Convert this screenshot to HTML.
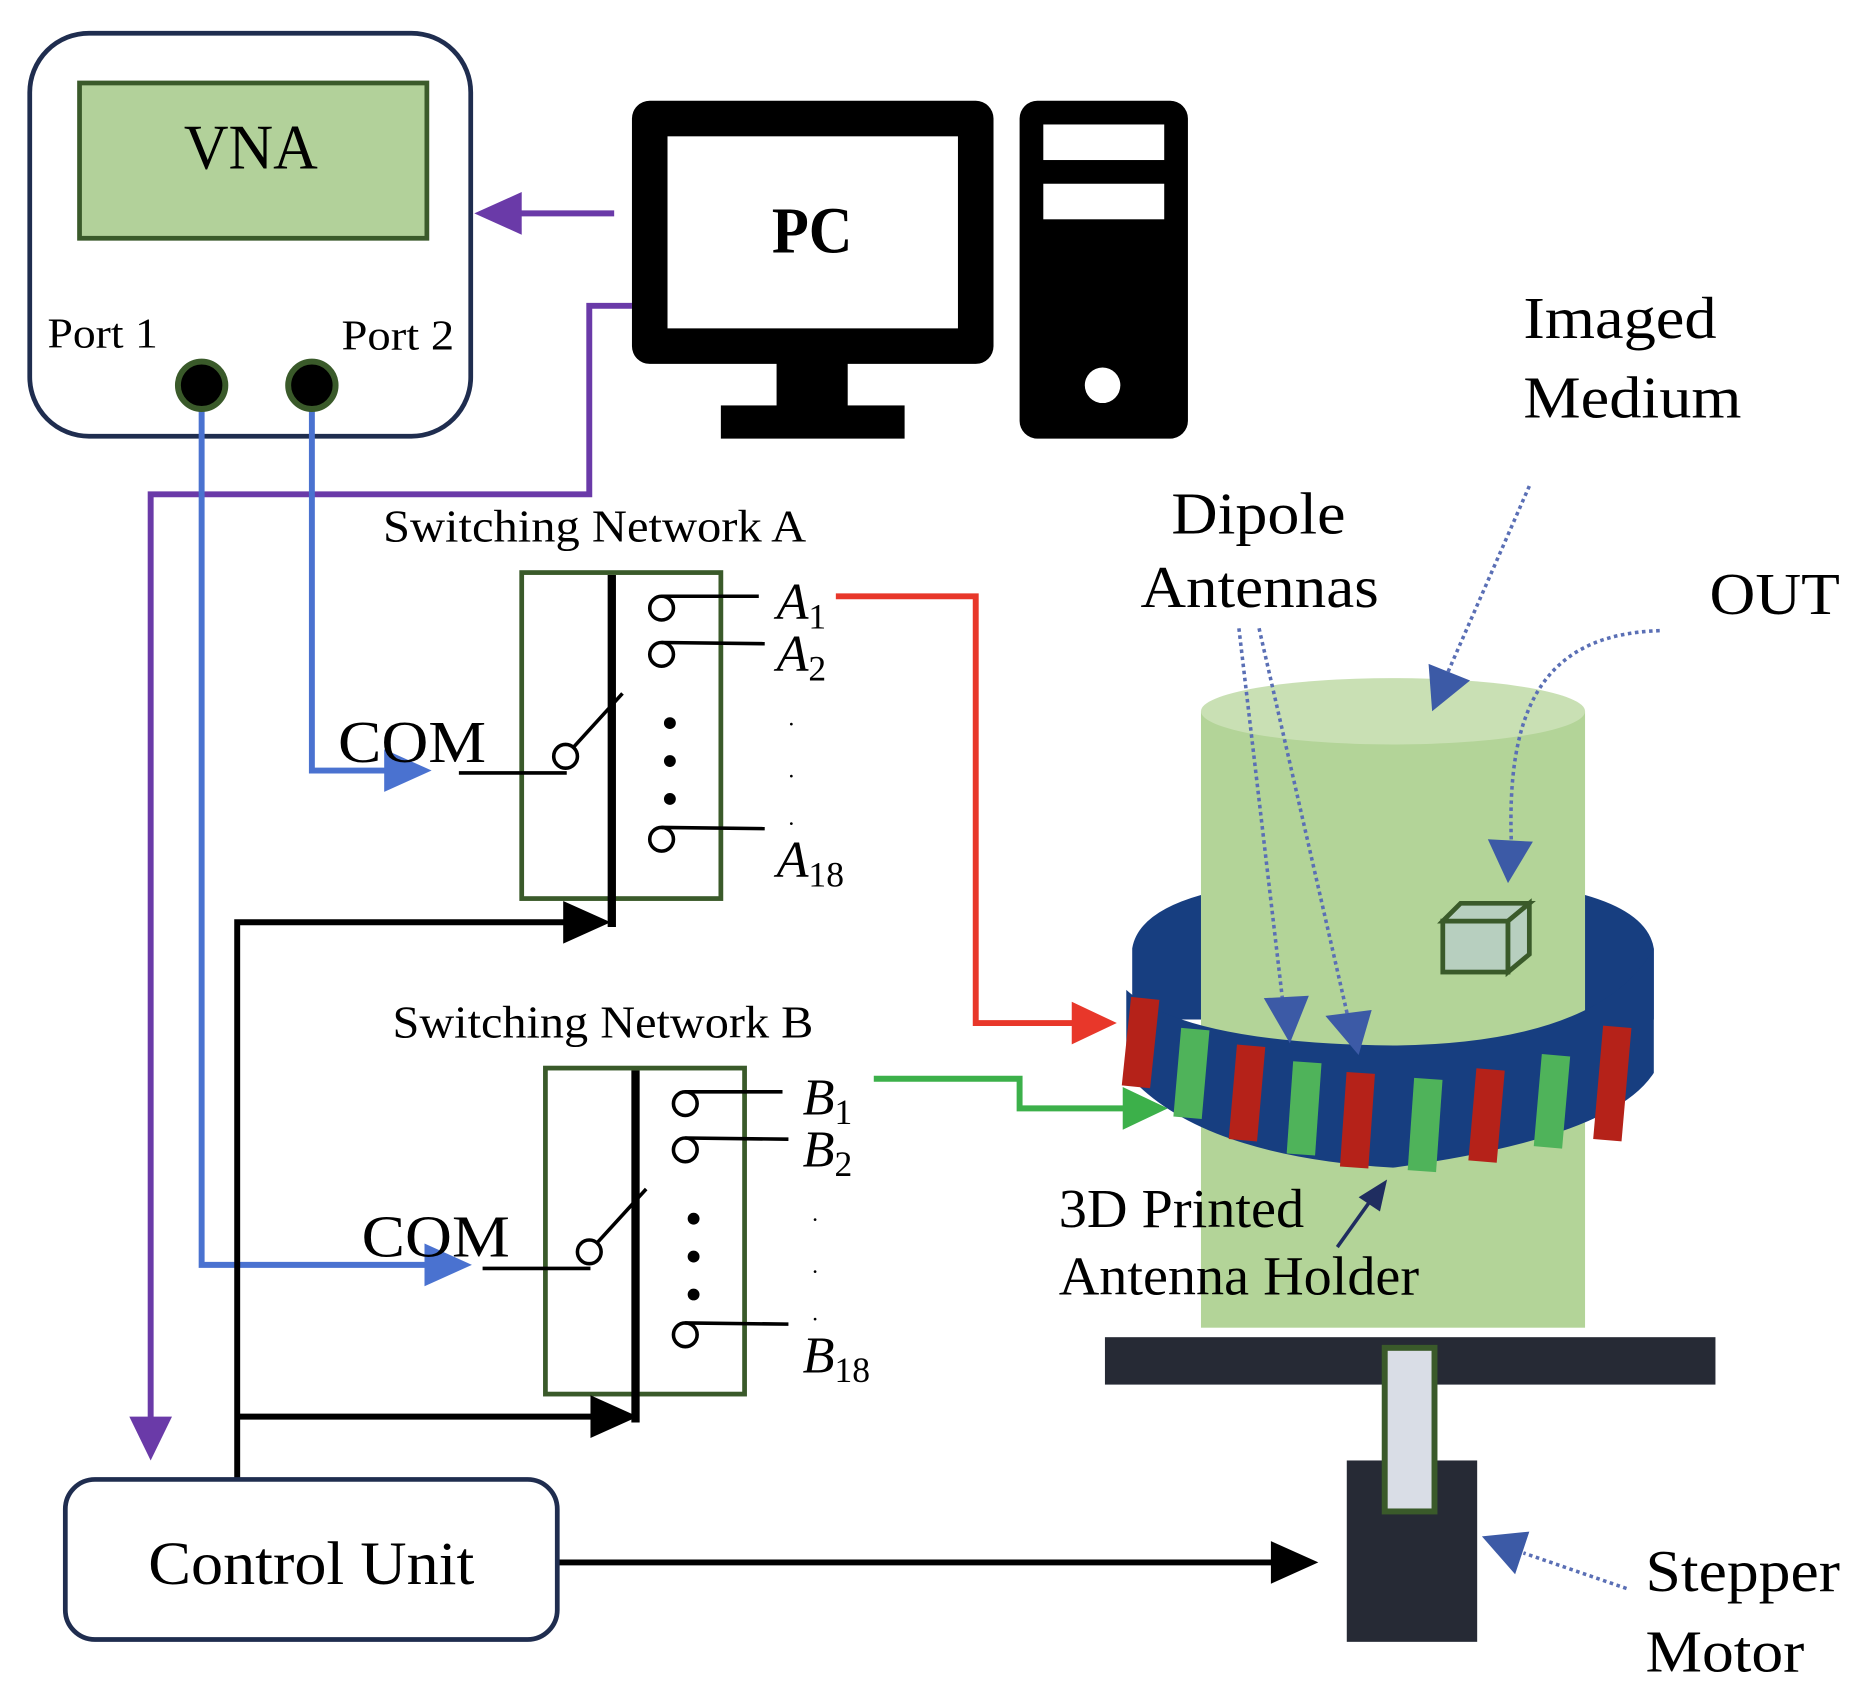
<!DOCTYPE html>
<html><head><meta charset="utf-8"><style>
html,body{margin:0;padding:0;background:#fff;}
svg{display:block;}
text{font-family:"Liberation Serif",serif;fill:#000;}
</style></head><body>
<svg width="1859" height="1694" viewBox="0 0 1568 1429" xmlns="http://www.w3.org/2000/svg">
<rect x="25" y="28" width="372" height="340" rx="50" fill="#fff" stroke="#1f2d4f" stroke-width="4"/>
<rect x="67" y="70" width="293" height="131" fill="#b2d19a" stroke="#3a5a2a" stroke-width="4"/>
<text x="155" y="142" font-size="54" textLength="113" lengthAdjust="spacingAndGlyphs">VNA</text>
<text x="40" y="293" font-size="36" textLength="93" lengthAdjust="spacingAndGlyphs">Port 1</text>
<text x="288" y="295" font-size="36" textLength="95" lengthAdjust="spacingAndGlyphs">Port 2</text>
<rect x="533" y="85" width="305" height="222" rx="15" fill="#000"/>
<rect x="563" y="115" width="245" height="162" fill="#fff"/>
<rect x="655" y="305" width="60" height="40" fill="#000"/>
<rect x="608" y="342" width="155" height="28" fill="#000"/>
<text x="651" y="213" font-size="55" font-weight="bold" textLength="68" lengthAdjust="spacingAndGlyphs">PC</text>
<rect x="860" y="85" width="142" height="285" rx="15" fill="#000"/>
<rect x="880" y="105" width="102" height="30" fill="#fff"/>
<rect x="880" y="155" width="102" height="30" fill="#fff"/>
<circle cx="930" cy="325" r="15" fill="#fff"/>
<g stroke="#6a3aa8" stroke-width="5" fill="none">
<line x1="518" y1="180" x2="430" y2="180"/>
<polyline points="533,258 497,258 497,417 127,417 127,1205"/>
</g>
<polygon points="400,180 440,162 440,198" fill="#6a3aa8"/>
<polygon points="127,1232 109,1195 145,1195" fill="#6a3aa8"/>
<g stroke="#4a72d0" stroke-width="5" fill="none">
<polyline points="263,340 263,650 330,650"/>
<polyline points="170,340 170,1067 360,1067"/>
</g>
<polygon points="364,650 324,632 324,668" fill="#4a72d0"/>
<polygon points="398,1067 358,1049 358,1085" fill="#4a72d0"/>
<circle cx="170" cy="325" r="20" fill="#000" stroke="#3a5a2a" stroke-width="5"/>
<circle cx="263" cy="325" r="20" fill="#000" stroke="#3a5a2a" stroke-width="5"/>
<g id="swA">
<rect x="440" y="483" width="168" height="275" fill="none" stroke="#3a5a2a" stroke-width="4"/>
<line x1="516" y1="485" x2="516" y2="782" stroke="#000" stroke-width="7"/>
<g stroke="#000" stroke-width="3" fill="none">
<circle cx="558" cy="513" r="10"/><circle cx="558" cy="552" r="10"/><circle cx="558" cy="708" r="10"/>
<line x1="558" y1="503" x2="640" y2="503"/><line x1="558" y1="542" x2="645" y2="543"/><line x1="558" y1="698" x2="645" y2="699"/>
<line x1="387" y1="652" x2="478" y2="652"/><circle cx="477" cy="638" r="10"/>
<line x1="484" y1="630" x2="525" y2="585"/>
</g>
<circle cx="565" cy="610" r="5"/><circle cx="565" cy="642" r="5"/><circle cx="565" cy="674" r="5"/>
<text x="665" y="612" font-size="20">.</text><text x="665" y="656" font-size="20">.</text><text x="665" y="696" font-size="20">.</text>
</g>
<text x="655" y="522" font-size="44" font-style="italic">A<tspan font-size="30" font-style="normal" dy="8">1</tspan></text>
<text x="655" y="566" font-size="44" font-style="italic">A<tspan font-size="30" font-style="normal" dy="8">2</tspan></text>
<text x="655" y="740" font-size="44" font-style="italic">A<tspan font-size="30" font-style="normal" dy="8">18</tspan></text>
<text x="323" y="457" font-size="38" textLength="357" lengthAdjust="spacingAndGlyphs">Switching Network A</text>
<text x="285" y="643" font-size="50" textLength="125" lengthAdjust="spacingAndGlyphs">COM</text>
<use href="#swA" transform="translate(20,418)"/>
<text x="677" y="940" font-size="44" font-style="italic">B<tspan font-size="30" font-style="normal" dy="8">1</tspan></text>
<text x="677" y="984" font-size="44" font-style="italic">B<tspan font-size="30" font-style="normal" dy="8">2</tspan></text>
<text x="677" y="1158" font-size="44" font-style="italic">B<tspan font-size="30" font-style="normal" dy="8">18</tspan></text>
<text x="331" y="875" font-size="38" textLength="355" lengthAdjust="spacingAndGlyphs">Switching Network B</text>
<text x="305" y="1060" font-size="50" textLength="125" lengthAdjust="spacingAndGlyphs">COM</text>
<g stroke="#000" stroke-width="5" fill="none">
<polyline points="200,1248 200,778 480,778"/>
<line x1="200" y1="1195" x2="500" y2="1195"/>
<line x1="470" y1="1318" x2="1080" y2="1318"/>
</g>
<polygon points="515,778 475,760 475,796" fill="#000"/>
<polygon points="538,1195 498,1177 498,1213" fill="#000"/>
<polygon points="1112,1318 1072,1300 1072,1336" fill="#000"/>
<rect x="55" y="1248" width="415" height="135" rx="25" fill="#fff" stroke="#1f2d4f" stroke-width="4"/>
<text x="125" y="1336" font-size="52" textLength="275" lengthAdjust="spacingAndGlyphs">Control Unit</text>
<polyline points="705,503 823,503 823,863 905,863" stroke="#e8372a" stroke-width="5" fill="none"/>
<polygon points="942,863 904,845 904,881" fill="#e8372a"/>
<polyline points="737,910 860,910 860,935 950,935" stroke="#3cb04a" stroke-width="5" fill="none"/>
<polygon points="985,935 947,917 947,953" fill="#3cb04a"/>
<path d="M955,800 Q960,770 1013,755 L1337,755 Q1390,770 1395,800 L1395,860 L955,860 Z" fill="#173e80"/>
<rect x="1013" y="600" width="324" height="520" fill="#b3d498"/>
<ellipse cx="1175" cy="600" rx="162" ry="28" fill="#c9e0b4"/>
<path d="M950,835 Q1000,880 1175,882 Q1350,880 1395,800 L1395,905 Q1360,960 1175,985 Q1010,975 950,905 Z" fill="#173e80"/>
<g>
<rect x="950" y="842" width="24" height="75" fill="#b52219" transform="rotate(6 962 880)"/>
<rect x="993" y="868" width="24" height="75" fill="#4fb35a" transform="rotate(5 1005 905)"/>
<rect x="1040" y="882" width="24" height="80" fill="#b52219" transform="rotate(5 1052 920)"/>
<rect x="1088" y="896" width="24" height="78" fill="#4fb35a" transform="rotate(4 1100 935)"/>
<rect x="1133" y="905" width="24" height="80" fill="#b52219" transform="rotate(4 1145 945)"/>
<rect x="1190" y="910" width="24" height="78" fill="#4fb35a" transform="rotate(4 1202 950)"/>
<rect x="1242" y="902" width="24" height="78" fill="#b52219" transform="rotate(5 1254 940)"/>
<rect x="1297" y="890" width="24" height="78" fill="#4fb35a" transform="rotate(5 1309 930)"/>
<rect x="1348" y="866" width="24" height="96" fill="#b52219" transform="rotate(5 1360 914)"/>
</g>
<g stroke="#3a5a2a" stroke-width="4" fill="#b7cfbf">
<rect x="1217" y="777" width="55" height="43"/>
<polygon points="1217,777 1232,762 1290,762 1272,777"/>
<polygon points="1272,777 1290,762 1290,805 1272,820"/>
</g>
<rect x="932" y="1128" width="515" height="40" fill="#262a35"/>
<rect x="1136" y="1232" width="110" height="153" fill="#262a35"/>
<rect x="1168" y="1137" width="42" height="138" fill="#d9dde6" stroke="#3a5a2a" stroke-width="5"/>
<g stroke="#5a6fb5" stroke-width="3" stroke-dasharray="3,3" fill="none">
<line x1="1290" y1="410" x2="1220" y2="570"/>
<path d="M1400,532 C1300,535 1270,600 1275,715"/>
<line x1="1045" y1="530" x2="1082" y2="845"/>
<line x1="1062" y1="530" x2="1137" y2="858"/>
<line x1="1372" y1="1340" x2="1285" y2="1310"/>
</g>
<g fill="#3c5aa6">
<polygon points="1208,600 1205,560 1240,574"/>
<polygon points="1272,745 1255,708 1293,710"/>
<polygon points="1088,880 1066,842 1104,840"/>
<polygon points="1146,890 1118,857 1157,852"/>
<polygon points="1250,1296 1290,1292 1278,1328"/>
</g>
<line x1="1128" y1="1052" x2="1158" y2="1010" stroke="#1f2d60" stroke-width="3"/>
<polygon points="1170,995 1146,1010 1164,1022" fill="#1f2d60"/>
<text x="1285" y="285" font-size="50" textLength="163" lengthAdjust="spacingAndGlyphs">Imaged</text>
<text x="1285" y="352" font-size="50" textLength="184" lengthAdjust="spacingAndGlyphs">Medium</text>
<text x="988" y="450" font-size="50" textLength="147" lengthAdjust="spacingAndGlyphs">Dipole</text>
<text x="962" y="512" font-size="50" textLength="201" lengthAdjust="spacingAndGlyphs">Antennas</text>
<text x="1442" y="518" font-size="50" textLength="110" lengthAdjust="spacingAndGlyphs">OUT</text>
<text x="893" y="1035" font-size="46" textLength="207" lengthAdjust="spacingAndGlyphs">3D Printed</text>
<text x="893" y="1092" font-size="46" textLength="304" lengthAdjust="spacingAndGlyphs">Antenna Holder</text>
<text x="1388" y="1342" font-size="50" textLength="164" lengthAdjust="spacingAndGlyphs">Stepper</text>
<text x="1388" y="1410" font-size="50" textLength="134" lengthAdjust="spacingAndGlyphs">Motor</text>
</svg>
</body></html>
